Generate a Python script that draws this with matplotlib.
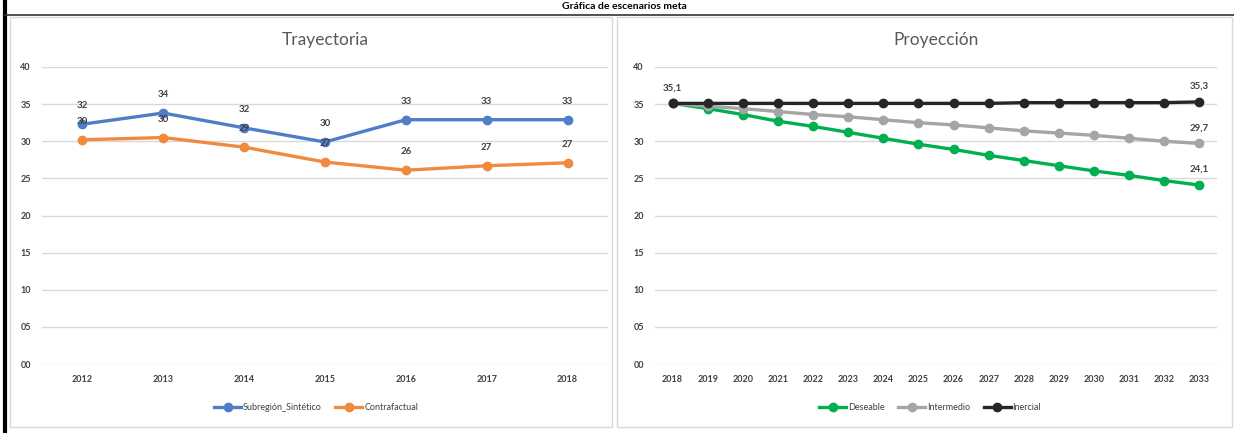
import matplotlib.pyplot as plt
from matplotlib.patches import Rectangle

plt.rcParams['font.family'] = ['Lato', 'DejaVu Sans']

# DATOS
anios_tray = ["2012", "2013", "2014", "2015", "2016", "2017", "2018"]
sintetico = [32.3, 33.8, 31.8, 29.9, 32.9, 32.9, 32.9]
contrafactual = [30.2, 30.5, 29.2, 27.2, 26.1, 26.7, 27.1]

anios_proy = ["2018", "2019", "2020", "2021", "2022", "2023", "2024", "2025",
              "2026", "2027", "2028", "2029", "2030", "2031", "2032", "2033"]
deseable = [35.1, 34.4, 33.6, 32.7, 32.0, 31.2, 30.4, 29.6,
            28.9, 28.1, 27.4, 26.7, 26.0, 25.4, 24.7, 24.1]
intermedio = [35.1, 34.7, 34.4, 34.0, 33.6, 33.3, 32.9, 32.5,
              32.2, 31.8, 31.4, 31.1, 30.8, 30.4, 30.0, 29.7]
inercial = [35.1, 35.1, 35.1, 35.1, 35.1, 35.1, 35.1, 35.1,
            35.1, 35.1, 35.2, 35.2, 35.2, 35.2, 35.2, 35.3]

yticks = [0, 5, 10, 15, 20, 25, 30, 35, 40]
ylabels = ["00", "05", "10", "15", "20", "25", "30", "35", "40"]

W, H = 1234, 433
fig = plt.figure(figsize=(W / 100, H / 100), dpi=100)

def px(x0, y0, x1, y1):
    # boite en pixels (origine en haut a gauche) -> coords figure
    return [x0 / W, 1 - y1 / H, (x1 - x0) / W, (y1 - y0) / H]

# CADRES
bg = fig.add_axes([0, 0, 1, 1])
bg.set_xlim(0, W)
bg.set_ylim(H, 0)
bg.axis('off')
bg.add_patch(Rectangle((10, 17), 602, 410, fill=False, ec='#d9d9d9', lw=1))
bg.add_patch(Rectangle((617, 17), 615, 410, fill=False, ec='#d9d9d9', lw=1))
bg.plot([5, 5], [0, H], color='black', lw=3)
bg.plot([5, W], [14.5, 14.5], color='#333333', lw=1.2)
bg.text(624, 6.5, "Gráfica de escenarios meta", ha='center', va='center',
        fontsize=7.5, fontweight='bold', color='black')

lab = dict(fontsize=7, color='#404040', fontweight='bold')

def style(ax, cats):
    ax.set_ylim(0, 40)
    ax.set_xlim(-0.5, len(cats) - 0.5)
    ax.set_yticks(yticks)
    ax.set_yticklabels(ylabels)
    ax.set_xticks(range(len(cats)))
    ax.set_xticklabels(cats)
    ax.grid(axis='y', color='#d9d9d9', lw=1)
    ax.set_axisbelow(True)
    for s in ax.spines.values():
        s.set_visible(False)
    ax.tick_params(length=0, labelsize=6.5, labelcolor='#404040', pad=8)
    for t in ax.get_xticklabels() + ax.get_yticklabels():
        t.set_fontweight('bold')
    ax.patch.set_alpha(0)

# TRAYECTORIA
ax1 = fig.add_axes(px(42, 67, 608, 364))
x1 = range(len(anios_tray))
ax1.plot(x1, sintetico, color='#4f7ec8', lw=2.4, marker='o', ms=6, label='Subregión_Sintético')
ax1.plot(x1, contrafactual, color='#f08a3e', lw=2.4, marker='o', ms=6, label='Contrafactual')
for i in x1:
    ax1.annotate(f"{sintetico[i]:.0f}", (i, sintetico[i]), xytext=(0, 10),
                 textcoords='offset points', ha='center', va='bottom', **lab)
    ax1.annotate(f"{contrafactual[i]:.0f}", (i, contrafactual[i]), xytext=(0, 10),
                 textcoords='offset points', ha='center', va='bottom', **lab)
style(ax1, anios_tray)
ax1.set_title("Trayectoria", fontsize=12.5, color='#595959', pad=16)
fig.legend(handles=ax1.get_lines(), loc='center', bbox_to_anchor=(316 / W, 1 - 408 / H),
           ncol=2, frameon=False, fontsize=6.5, handlelength=3, columnspacing=1.5,
           handletextpad=0.2, labelcolor='#404040')

# PROYECCION
ax2 = fig.add_axes(px(655, 67, 1217, 364))
x2 = range(len(anios_proy))
ax2.plot(x2, deseable, color='#00b050', lw=2.4, marker='o', ms=6, label='Deseable')
ax2.plot(x2, intermedio, color='#a5a5a5', lw=2.4, marker='o', ms=6, label='Intermedio')
ax2.plot(x2, inercial, color='#262626', lw=2.4, marker='o', ms=6, label='Inercial')
fmt = lambda v: f"{v:.1f}".replace('.', ',')
ax2.annotate(fmt(inercial[0]), (0, inercial[0]), xytext=(0, 8),
             textcoords='offset points', ha='center', va='bottom', **lab)
last = len(anios_proy) - 1
for serie in (deseable, intermedio, inercial):
    ax2.annotate(fmt(serie[last]), (last, serie[last]), xytext=(0, 8),
                 textcoords='offset points', ha='center', va='bottom', **lab)
style(ax2, anios_proy)
ax2.set_title("Proyección", fontsize=12.5, color='#595959', pad=16)
fig.legend(handles=ax2.get_lines(), loc='center', bbox_to_anchor=(930 / W, 1 - 408 / H),
           ncol=3, frameon=False, fontsize=6.5, handlelength=3, columnspacing=1.5,
           handletextpad=0.2, labelcolor='#404040')

fig.savefig("out.png", dpi=100)
